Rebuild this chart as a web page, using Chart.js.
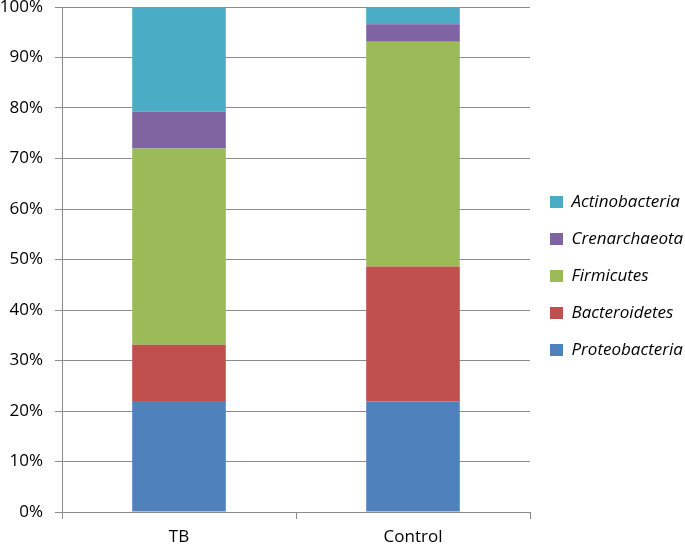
<!DOCTYPE html>
<html lang="en">
<head>
    <meta charset="UTF-8">
    <title>Phylum composition</title>
    <script src="https://cdn.jsdelivr.net/npm/chart.js"></script>
    <style>
        html, body { margin: 0; padding: 0; background: #fff; }
        #wrap { width: 685px; height: 545px; }
    </style>
</head>
<body>
    <div id="wrap"><canvas id="phylaChart"></canvas></div>
    <script>
        // Data (percent of each sample)
        const groups = ['TB', 'Control'];
        const proteobacteria = [22.0, 21.9];
        const bacteroidetes = [11.1, 26.7];
        const firmicutes = [38.9, 44.5];
        const crenarchaeota = [7.3, 3.5];
        const actinobacteria = [20.7, 3.4];
        const yTicks = [0, 10, 20, 30, 40, 50, 60, 70, 80, 90, 100];

        const series = [
            { label: 'Proteobacteria', data: proteobacteria, color: '#4F81BD' },
            { label: 'Bacteroidetes', data: bacteroidetes, color: '#C0504D' },
            { label: 'Firmicutes', data: firmicutes, color: '#9BBB59' },
            { label: 'Crenarchaeota', data: crenarchaeota, color: '#8064A2' },
            { label: 'Actinobacteria', data: actinobacteria, color: '#4BACC6' }
        ];

        const font = "'Open Sans', 'Liberation Sans', sans-serif";
        const gridColor = '#8c8c8c';

        // keep the legend column a fixed width so the plot ends where Excel put it
        const legendWidth = {
            id: 'legendWidth',
            beforeLayout(chart) {
                const lg = chart.legend;
                if (lg && !lg._fixed) {
                    const fit = lg.fit.bind(lg);
                    lg.fit = function () { fit(); this.width = 155; };
                    lg._fixed = true;
                }
            }
        };

        new Chart(document.getElementById('phylaChart'), {
            type: 'bar',
            data: {
                labels: groups,
                datasets: series.map(s => ({
                    label: s.label,
                    data: s.data,
                    backgroundColor: s.color,
                    borderWidth: 0,
                    categoryPercentage: 1,
                    barPercentage: 0.4
                }))
            },
            plugins: [legendWidth],
            options: {
                responsive: true,
                maintainAspectRatio: false,
                animation: false,
                layout: { padding: { top: 7, right: 0, left: 0, bottom: 0 } },
                plugins: {
                    tooltip: { enabled: false },
                    legend: {
                        position: 'right',
                        reverse: true,
                        labels: {
                            boxWidth: 13,
                            boxHeight: 12,
                            padding: 20,
                            color: '#000',
                            font: { family: font, size: 17, style: 'italic' }
                        }
                    }
                },
                scales: {
                    x: {
                        stacked: true,
                        afterFit: s => { s.height = 33; },
                        grid: {
                            offset: true,
                            drawOnChartArea: false,
                            drawTicks: true,
                            tickLength: 7,
                            color: gridColor
                        },
                        border: { color: gridColor, width: 1 },
                        ticks: {
                            color: '#000',
                            padding: 8,
                            font: { family: font, size: 17 }
                        }
                    },
                    y: {
                        stacked: true,
                        min: 0,
                        max: 100,
                        afterBuildTicks: axis => { axis.ticks = yTicks.map(v => ({ value: v })); },
                        afterFit: s => { s.width = 62; s.paddingTop = 0; s.paddingBottom = 0; },
                        grid: {
                            color: gridColor,
                            tickLength: 7,
                            lineWidth: 1
                        },
                        border: { color: gridColor, width: 1 },
                        ticks: {
                            color: '#000',
                            padding: 12,
                            font: { family: font, size: 17 },
                            callback: v => v + '%'
                        }
                    }
                }
            }
        });
    </script>
</body>
</html>
